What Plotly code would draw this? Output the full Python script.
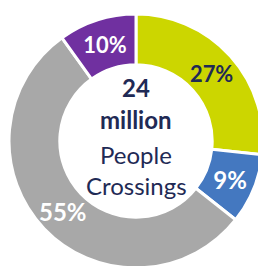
import math
import plotly.graph_objects as go

categories = ["Segment A", "Segment B", "Segment C", "Segment D"]
values = [27, 9, 55, 10]
labels_text = ["27%", "9%", "55%", "10%"]
colors = ["#CCD600", "#4478C0", "#A8A8A8", "#7030A0"]
text_colors = ["#1F2A55", "#FFFFFF", "#FFFFFF", "#FFFFFF"]
center_lines = ["<b>24</b>", "<b>million</b>", "People", "Crossings"]

HOLE = 0.6
W, H = 263, 268
ML, MT = 9, 14

# the large slice gets its label placed at the slice's mid-angle via an annotation
big = values.index(max(values))
pie_text = ["<b>" + t + "</b>" if i != big else "" for i, t in enumerate(labels_text)]

fig = go.Figure(go.Pie(
    labels=categories,
    values=values,
    text=pie_text,
    textinfo="text",
    hole=HOLE,
    sort=False,
    direction="clockwise",
    rotation=0,
    marker=dict(colors=colors, line=dict(color="white", width=3)),
    textposition="inside",
    insidetextorientation="horizontal",
    textfont=dict(family="Lato", size=24, color=text_colors),
    hoverinfo="label+percent",
    showlegend=False,
))

total = sum(values)
start = sum(values[:big]) / total
mid = (start + values[big] / total / 2) * 2 * math.pi
rr = 0.5 * (1 + HOLE) / 2
fig.add_annotation(x=0.5 + rr * math.sin(mid), y=0.5 + rr * math.cos(mid),
                   xref="paper", yref="paper", text="<b>" + labels_text[big] + "</b>",
                   xanchor="center", yanchor="middle", showarrow=False,
                   font=dict(family="Lato", size=24, color=text_colors[big]))

ys = [0.709, 0.583, 0.447, 0.323]
for line, y in zip(center_lines, ys):
    fig.add_annotation(x=0.5, y=y, xref="paper", yref="paper", text=line,
                       xanchor="center", yanchor="middle",
                       showarrow=False, font=dict(family="Lato", size=24, color="#1F2A55"))

fig.update_layout(width=W, height=H, autosize=False,
                  margin=dict(l=ML, r=0, t=MT, b=0),
                  paper_bgcolor="white", plot_bgcolor="white")
fig.write_html("out.html", config={"displayModeBar": False},
               post_script="document.body.style.margin='0';document.body.style.overflow='hidden';document.documentElement.style.overflow='hidden';")
